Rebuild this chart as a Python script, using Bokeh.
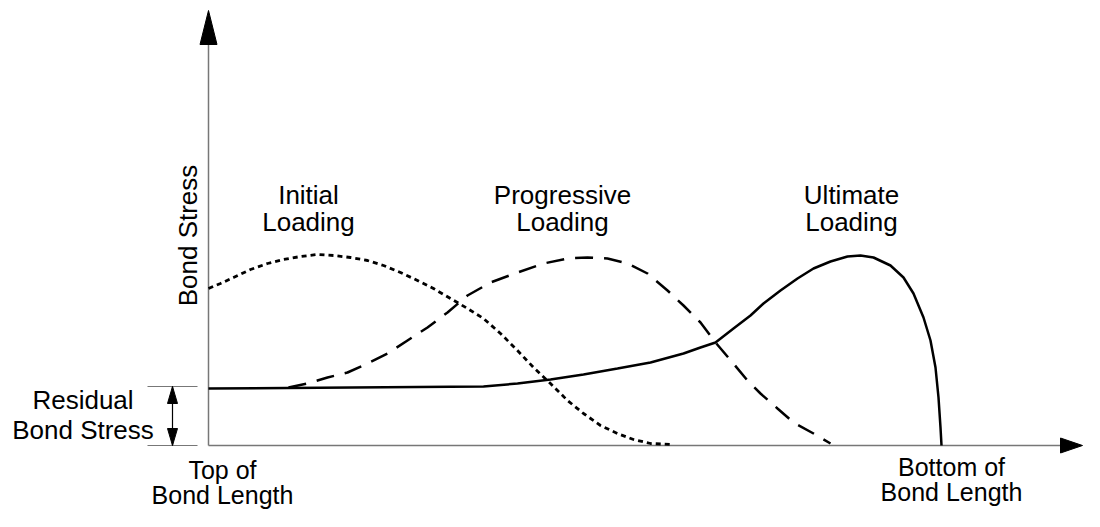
import numpy as np
from bokeh.plotting import figure
from bokeh.models import Range1d
from bokeh.core.properties import value
from bokeh.embed import file_html
from bokeh.resources import INLINE

# Schematic data: x = position along bond length, y = bond stress (arbitrary units)
initial_x = [0, 12, 25, 42, 59, 75, 92, 109, 125, 142, 159, 175, 192, 209, 225, 242, 259,
             275, 292, 309, 325, 342, 359, 375, 392, 409, 425, 442, 462]
initial_y = [157, 162, 168, 176, 182, 186, 189, 191, 190, 188, 185, 180, 173, 165, 157, 147, 137,
             127, 112, 95, 78, 62, 45, 32, 20, 12, 6, 2, 1]

progressive_x = [80, 99, 119, 139, 159, 179, 199, 219, 239, 259, 282, 309, 335, 359, 379, 399,
                 419, 439, 459, 475, 492, 507, 524, 539, 552, 569, 585, 605, 622]
progressive_y = [58, 62, 68, 73, 82, 92, 105, 118, 133, 150, 163, 173, 182, 187, 188, 187,
                 182, 172, 155, 140, 123, 103, 83, 65, 52, 37, 23, 12, 2]

ultimate_x = [0, 275, 309, 342, 375, 409, 442, 475, 492, 507, 525, 542, 555, 572, 589, 605,
              622, 639, 652, 665, 682, 695, 705, 715, 722, 727, 730, 732, 733]
ultimate_y = [57, 59, 62, 66, 71, 77, 83, 92, 98, 103, 117, 130, 142, 155, 167, 177,
              184, 189, 190, 188, 180, 168, 152, 128, 105, 78, 48, 18, 0]

residual_stress = 59
axis_x_end = 852
axis_y_end = 401

curve_titles = [("Initial", "Loading"), ("Progressive", "Loading"), ("Ultimate", "Loading")]
x_labels = [("Top of", "Bond Length"), ("Bottom of", "Bond Length")]
y_label = "Bond Stress"
residual_label = ("Residual", "Bond Stress")

FONT = value("Liberation Sans")
FS = "26px"

p = figure(width=1084, height=511, output_backend="svg", toolbar_location=None,
           x_range=Range1d(-208, 876), y_range=Range1d(-66, 445),
           x_axis_location=None, y_axis_location=None, min_border=0,
           outline_line_color=None, background_fill_color="white", border_fill_color="white")
p.grid.visible = False

AX = "#777777"
# axes
p.line([0, 0], [0, axis_y_end], line_color=AX, line_width=1.5)
p.line([0, axis_x_end], [0, 0], line_color=AX, line_width=1.5)
p.patch([-8.5, 8.5, 0], [axis_y_end, axis_y_end, 435], color="black")
p.patch([axis_x_end, axis_x_end, 874], [7.5, -7.5, 0], color="black")

# residual bond stress marker
p.line([-61, -11], [residual_stress, residual_stress], line_color=AX, line_width=1.2)
p.line([-61, -11], [0, 0], line_color=AX, line_width=1.2)
p.line([-36, -36], [0, residual_stress], line_color="black", line_width=1.2)
p.patch([-41, -31, -36], [residual_stress - 17, residual_stress - 17, residual_stress], color="black")
p.patch([-41, -31, -36], [17, 17, 0], color="black")

# curves
p.line(initial_x, initial_y, line_color="black", line_width=2.8, line_dash="5 4")
p.line(progressive_x, progressive_y, line_color="black", line_width=2.5, line_dash="18 11")
p.line(ultimate_x, ultimate_y, line_color="black", line_width=2.5)


def label(x, y, t, size=FS, **kw):
    p.text([x], [y], text=[t], text_font=FONT, text_font_size=size, text_align="center",
           text_baseline=kw.get("baseline", "alphabetic"), angle=kw.get("angle", 0),
           text_color="black")


# curve titles
for (a, b), cx in zip(curve_titles, [100, 354, 643]):
    label(cx, 251, a)
    label(cx, 224, b)

# x labels
for (a, b), cx, y0 in zip(x_labels, [14, 743], [-24, -21]):
    label(cx, y0, a, size="25px")
    label(cx, y0 - 25, b, size="25px")

# y label
label(-20.5, 210, y_label, angle=np.pi / 2, baseline="middle")

# residual label
label(-125.5, 46, residual_label[0])
label(-125.5, 16, residual_label[1])

open("out.html", "w").write(file_html(p, INLINE))
